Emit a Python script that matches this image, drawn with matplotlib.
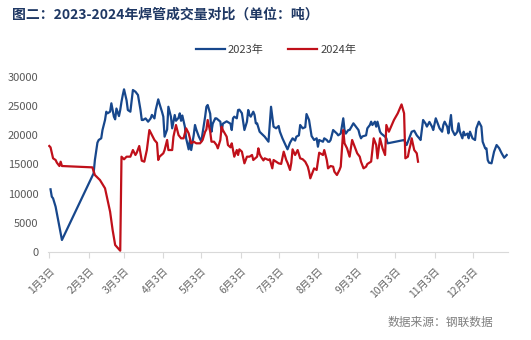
import matplotlib
matplotlib.use("Agg")
import matplotlib.pyplot as plt
import pandas as pd

plt.rcParams['font.family'] = ['Noto Sans CJK SC', 'DejaVu Sans']

# 2023年 成交量（吨）
dates_2023 = [
    "01-04", "01-05", "01-06", "01-08", "01-13", "02-07", "02-08", "02-10", "02-11", "02-13",
    "02-14", "02-16", "02-17", "02-18", "02-20", "02-21", "02-23", "02-24", "02-25", "02-27",
    "02-28", "03-01", "03-02", "03-03", "03-05", "03-06", "03-08", "03-10", "03-12", "03-14",
    "03-16", "03-17", "03-18", "03-20", "03-22", "03-24", "03-25", "03-27", "03-28", "03-30",
    "03-31", "04-02", "04-03", "04-04", "04-06", "04-07", "04-09", "04-10", "04-12", "04-13",
    "04-15", "04-16", "04-17", "04-18", "04-20", "04-21", "04-23", "04-24", "04-25", "04-27",
    "04-28", "04-29", "05-01", "05-03", "05-04", "05-06", "05-07", "05-08", "05-10", "05-11",
    "05-12", "05-14", "05-15", "05-18", "05-19", "05-20", "05-23", "05-26", "05-27", "05-28",
    "05-29", "05-31", "06-01", "06-02", "06-04", "06-05", "06-06", "06-08", "06-09", "06-10",
    "06-11", "06-13", "06-14", "06-15", "06-16", "06-18", "06-19", "06-22", "06-25", "06-27",
    "06-29", "07-01", "07-03", "07-04", "07-06", "07-09", "07-10", "07-12", "07-14", "07-16",
    "07-17", "07-19", "07-20", "07-22", "07-24", "07-25", "07-27", "07-28", "07-29", "07-31",
    "08-02", "08-03", "08-04", "08-07", "08-08", "08-10", "08-11", "08-12", "08-13", "08-15",
    "08-18", "08-19", "08-21", "08-23", "08-24", "08-25", "08-27", "08-28", "08-31", "09-02",
    "09-04", "09-05", "09-06", "09-07", "09-10", "09-11", "09-13", "09-14", "09-15", "09-17",
    "09-18", "09-19", "09-21", "09-22", "09-25", "09-26", "09-27", "10-10", "10-12", "10-14",
    "10-16", "10-18", "10-20", "10-22", "10-23", "10-25", "10-27", "10-28", "10-30", "11-01",
    "11-02", "11-04", "11-06", "11-07", "11-09", "11-10", "11-11", "11-13", "11-14", "11-16",
    "11-17", "11-19", "11-20", "11-21", "11-22", "11-23", "11-25", "11-26", "11-27", "11-29",
    "11-30", "12-01", "12-03", "12-05", "12-06", "12-08", "12-10", "12-11", "12-13", "12-14",
    "12-15", "12-16", "12-18", "12-20", "12-22", "12-24", "12-26", "12-28", "12-30",
]
volume_2023 = [
    10750, 9480, 9200, 7770, 2060, 13490, 15770, 18740, 19200, 19490,
    20910, 22630, 24050, 23770, 24050, 25490, 23200, 22740, 24600, 23300,
    24340, 25760, 26910, 27890, 26000, 24340, 24050, 27770, 27480, 26910,
    24340, 22630, 22630, 22900, 22340, 22900, 23500, 22900, 24340, 26170,
    25400, 24000, 23200, 19770, 21000, 24900, 23200, 21200, 23480, 22500,
    23000, 23770, 22500, 23400, 21480, 19490, 17600, 19200, 17480, 20050,
    21770, 21000, 19800, 18910, 20400, 23200, 24900, 25200, 23700, 20620,
    22000, 22920, 22900, 22340, 20620, 22000, 22400, 22000, 20910, 22920,
    23200, 22920, 24340, 24400, 23800, 22340, 20910, 22340, 24340, 23500,
    23200, 24050, 23500, 22060, 22060, 20620, 20400, 19770, 18910, 24900,
    21480, 21200, 21600, 20620, 19490, 18050, 17600, 18740, 19490, 19100,
    19770, 20000, 21770, 21200, 21400, 23650, 22630, 21200, 19880, 19200,
    19490, 18050, 19200, 18900, 19490, 19200, 18900, 18900, 19200, 20910,
    20300, 20000, 20300, 22920, 20910, 20300, 20910, 20910, 22060, 21500,
    20910, 20050, 19490, 19800, 20000, 21200, 21770, 22340, 21770, 22340,
    21480, 22340, 20620, 20300, 19770, 19490, 18630, 19200, 18340, 19490,
    20620, 20790, 20000, 19490, 19200, 22630, 22000, 21500, 22300, 21500,
    20910, 22920, 21800, 21200, 20620, 21800, 22340, 21500, 20340, 23480,
    20910, 20050, 20300, 20620, 22060, 20620, 19490, 20620, 20000, 20300,
    19490, 20620, 19490, 19200, 21200, 22340, 21500, 18910, 17770, 17770,
    15770, 15310, 15200, 17200, 18340, 17800, 16920, 16160, 16630,
]

# 2024年 成交量（吨）
dates_2024 = [
    "01-03", "01-04", "01-06", "01-08", "01-09", "01-11", "01-12", "01-13", "02-06", "02-08",
    "02-12", "02-16", "02-20", "02-22", "02-24", "02-27", "02-28", "03-01", "03-03", "03-05",
    "03-08", "03-10", "03-12", "03-13", "03-15", "03-17", "03-19", "03-21", "03-23", "03-25",
    "03-27", "03-29", "03-30", "03-31", "04-03", "04-04", "04-06", "04-07", "04-10", "04-11",
    "04-13", "04-15", "04-17", "04-19", "04-21", "04-23", "04-25", "04-27", "04-29", "05-02",
    "05-04", "05-06", "05-07", "05-08", "05-10", "05-11", "05-13", "05-15", "05-16", "05-18",
    "05-19", "05-20", "05-23", "05-24", "05-26", "05-27", "05-28", "05-29", "05-31", "06-01",
    "06-02", "06-04", "06-06", "06-08", "06-10", "06-12", "06-13", "06-16", "06-17", "06-18",
    "06-19", "06-21", "06-22", "06-25", "06-26", "06-28", "06-29", "07-01", "07-03", "07-05",
    "07-07", "07-09", "07-10", "07-12", "07-13", "07-14", "07-16", "07-18", "07-20", "07-22",
    "07-24", "07-26", "07-27", "07-28", "07-30", "07-31", "08-02", "08-04", "08-07", "08-08",
    "08-10", "08-11", "08-13", "08-15", "08-16", "08-18", "08-20", "08-21", "08-23", "08-24",
    "08-26", "08-28", "08-30", "09-01", "09-03", "09-05", "09-06", "09-08", "09-10", "09-11",
    "09-14", "09-16", "09-18", "09-19", "09-21", "09-23", "09-25", "09-26", "09-28", "10-02",
    "10-05", "10-08", "10-10", "10-11", "10-13", "10-14", "10-15", "10-16", "10-18", "10-20",
    "10-21",
]
volume_2024 = [
    18170, 17940, 16060, 15770, 15310, 14740, 15480, 14740, 14510, 13200,
    12340, 10920, 6910, 3770, 1200, 460, 220, 16340, 15890, 16340,
    16340, 17480, 16630, 17000, 18170, 15650, 15480, 17480, 20910, 20050,
    19200, 18700, 15770, 16340, 16920, 17480, 19200, 17480, 17480, 19770,
    21770, 20050, 19490, 19490, 21200, 20340, 18630, 18910, 18630, 18630,
    19200, 20620, 21000, 22630, 20620, 18910, 18910, 18340, 17770, 19200,
    21480, 20900, 19770, 18340, 17940, 18630, 17480, 16340, 17480, 16630,
    17600, 17200, 15200, 16340, 16340, 16630, 15770, 16340, 17770, 16800,
    16340, 15700, 16060, 15770, 15900, 14340, 15770, 15480, 15200, 15100,
    17200, 15770, 15300, 14060, 15300, 17600, 16630, 17480, 16060, 15900,
    15480, 14630, 13770, 12630, 13770, 14340, 14060, 17020, 16630, 17480,
    15770, 14340, 14740, 14630, 13770, 13200, 14060, 14630, 20910, 18630,
    17770, 16340, 19200, 18050, 16920, 16340, 15480, 14340, 14630, 15080,
    15500, 19490, 18340, 16060, 19490, 17770, 16630, 21770, 20620, 22630,
    23770, 25300, 23770, 16060, 16340, 17480, 18340, 19490, 17480, 16920,
    15480,
]

month_ticks = [f"{m}月3日" for m in range(1, 13)]

# both years share one calendar axis
x_2023 = pd.to_datetime(["2023-" + d for d in dates_2023])
x_2024 = pd.to_datetime(["2023-" + d for d in dates_2024])
tick_pos = pd.to_datetime([f"2023-{m:02d}-03" for m in range(1, 13)])

fig = plt.figure(figsize=(5.31, 3.40), dpi=100)
ax = fig.add_axes([48 / 531, 88 / 340, 460 / 531, 175 / 340])

blue = "#17478C"
red = "#C0101A"
ax.plot(x_2023, volume_2023, color=blue, lw=1.6, label="2023年")
ax.plot(x_2024, volume_2024, color=red, lw=1.6, label="2024年")

ax.set_xlim(pd.Timestamp("2023-01-02"), pd.Timestamp("2023-12-31"))
ax.set_ylim(0, 30000)
ax.set_yticks(range(0, 30001, 5000))
ax.set_xticks(tick_pos)
ax.set_xticklabels(month_ticks, rotation=45, ha="right", va="top",
                   rotation_mode="anchor")

for s in ["top", "right", "left"]:
    ax.spines[s].set_visible(False)
ax.spines["bottom"].set_color("#D9D9D9")
ax.tick_params(axis="y", length=0, pad=7, labelsize=8, labelcolor="#595959")
ax.tick_params(axis="x", length=4, color="#D9D9D9", pad=6, labelsize=7.5,
               labelcolor="#666666")

fig.legend(loc="center", bbox_to_anchor=(0.52, 0.853), ncol=2, frameon=False,
           fontsize=8, handlelength=2.6, columnspacing=2.2, handletextpad=0.3,
           labelcolor="#404040")

fig.text(12 / 531, 1 - 15 / 340, "图二：2023-2024年焊管成交量对比（单位：吨）",
         fontsize=10, fontweight="bold", color="#1F3864", va="center")
fig.text(493 / 531, 1 - 322 / 340, "数据来源：钢联数据", fontsize=8.5,
         color="#7F7F7F", ha="right", va="center")

fig.savefig("out.png", dpi=100)
